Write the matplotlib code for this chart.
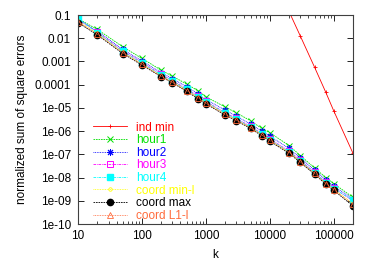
import matplotlib.pyplot as plt
import numpy as np

plt.rcParams['font.family'] = ['Liberation Sans', 'DejaVu Sans']

# sample sizes k
k = [10, 20, 50, 100, 200, 300, 500, 750, 1000, 2000, 3000, 5000, 7500,
     10000, 20000, 30000, 50000, 75000, 100000, 200000]

# normalized sum of square errors
coord_max = [4.7e-2, 1.4e-2, 2.2e-3, 7.0e-4, 2.2e-4, 1.2e-4, 5.2e-5, 2.5e-5, 1.5e-5,
             4.9e-6, 2.8e-6, 1.3e-6, 6.3e-7, 3.7e-7, 1.1e-7, 4.5e-8, 1.4e-8,
             5.2e-9, 2.8e-9, 6.0e-10]
hour1 = [7.0e-2, 2.4e-2, 4.3e-3, 1.35e-3, 4.2e-4, 2.3e-4, 1.07e-4, 5.5e-5, 3.0e-5,
         1.1e-5, 6.1e-6, 2.8e-6, 1.3e-6, 8.5e-7, 2.4e-7, 8.9e-8, 2.6e-8,
         1.0e-8, 5.5e-9, 1.4e-9]
hour2 = [6.5e-2, 2.0e-2, 3.3e-3, 1.05e-3, 3.3e-4, 1.8e-4, 8.2e-5, 4.0e-5, 2.3e-5,
         8.0e-6, 4.4e-6, 2.0e-6, 1.0e-6, 6.0e-7, 1.8e-7, 7.0e-8, 2.1e-8,
         8.0e-9, 4.3e-9, 1.2e-9]
hour3 = [6.8e-2, 1.8e-2, 2.9e-3, 9.0e-4, 2.8e-4, 1.5e-4, 6.6e-5, 3.2e-5, 1.9e-5,
         6.2e-6, 3.5e-6, 1.6e-6, 7.8e-7, 4.6e-7, 1.4e-7, 5.5e-8, 1.7e-8,
         6.3e-9, 3.5e-9, 1.0e-9]
hour4 = [7.2e-2, 1.7e-2, 2.7e-3, 8.4e-4, 2.6e-4, 1.4e-4, 6.2e-5, 3.0e-5, 1.8e-5,
         5.9e-6, 3.3e-6, 1.5e-6, 7.4e-7, 4.3e-7, 1.3e-7, 5.2e-8, 1.6e-8,
         6.1e-9, 3.3e-9, 1.07e-9]
coord_min_l = [5.5e-2, 1.6e-2, 2.5e-3, 7.8e-4, 2.4e-4, 1.3e-4, 5.8e-5, 2.8e-5, 1.7e-5,
               5.5e-6, 3.1e-6, 1.4e-6, 7.0e-7, 4.1e-7, 1.2e-7, 4.9e-8, 1.5e-8,
               5.7e-9, 3.1e-9, 7.5e-10]
coord_l1_l = [5.2e-2, 1.5e-2, 2.4e-3, 7.5e-4, 2.3e-4, 1.25e-4, 5.6e-5, 2.7e-5, 1.6e-5,
              5.2e-6, 3.0e-6, 1.4e-6, 6.8e-7, 4.0e-7, 1.2e-7, 4.8e-8, 1.5e-8,
              5.5e-9, 3.0e-9, 7.0e-10]
k_ind = [10000, 20000, 30000, 50000, 75000, 100000, 200000]
ind_min = [10.0, 1.4e-1, 1.24e-2, 5.7e-4, 4.7e-5, 7.4e-6, 1.1e-7]

fig = plt.figure(figsize=(3.74, 2.62), dpi=100)
ax = fig.add_axes([0.2086, 0.145, 0.7353, 0.7977])

lw = 0.6
ax.plot(k_ind, ind_min, color='#ff0000', ls='-', lw=lw, marker='+', ms=3, mew=0.6, label='ind min')
ax.plot(k, hour1, color='#00e000', ls=(0, (2, 1)), lw=lw, marker='x', ms=4.5, mew=0.7, label='hour1')
ax.plot(k, hour2, color='#0000ff', ls=(0, (1, 1)), lw=lw, marker=(8, 2, 0), ms=5, mew=0.7, label='hour2')
ax.plot(k, hour3, color='#ff00ff', ls=(0, (3, 1, 1, 1)), lw=lw, marker='s', ms=4.5, mfc='none', mew=0.7, label='hour3')
ax.plot(k, hour4, color='#00ffff', ls=(0, (3, 1, 1, 1)), lw=lw, marker='s', ms=4.5, label='hour4')
ax.plot(k, coord_min_l, color='#ffff00', ls=(0, (1, 1)), lw=lw, marker='o', ms=2.5, mfc='none', mew=0.6, label='coord min-l')
ax.plot(k, coord_max, color='#000000', ls=(0, (2, 1)), lw=lw, marker='o', ms=4.5, label='coord max')
ax.plot(k, coord_l1_l, color='#ff6a3a', ls=(0, (1, 1)), lw=lw, marker='^', ms=4, mfc='none', mew=0.6, label='coord L1-l')

ax.set_xscale('log')
ax.set_yscale('log')
ax.set_xlim(10, 200000)
ax.set_ylim(1e-10, 0.1)

xt = [10, 100, 1000, 10000, 100000]
ax.set_xticks(xt, labels=[str(v) for v in xt])
yt = [10.0 ** e for e in range(-10, 0)]
ylab = ['1e-10', '1e-09', '1e-08', '1e-07', '1e-06', '1e-05', '0.0001', '0.001', '0.01', '0.1']
ax.set_yticks(yt, labels=ylab)
ax.yaxis.set_minor_locator(plt.NullLocator())

fs = 8.5
ax.tick_params(which='both', direction='in', top=True, right=True, labelsize=fs)
ax.tick_params(axis='y', pad=5)
ax.tick_params(axis='x', pad=4.5)
ax.tick_params(which='major', length=4, width=0.6)
ax.tick_params(which='minor', length=2, width=0.5)
for s in ax.spines.values():
    s.set_linewidth(0.8)
    s.set_color('#404040')

ax.set_xlabel('k', fontsize=fs, labelpad=5)
ax.set_ylabel('normalized sum of square errors', fontsize=fs, labelpad=5)

ax.legend(loc='upper left', bbox_to_anchor=(0.055, 0.49), frameon=False, fontsize=fs,
          handlelength=2.9, handletextpad=0.7, labelspacing=0.05, borderpad=0,
          labelcolor='linecolor', borderaxespad=0)

fig.savefig('out.png', dpi=100)
